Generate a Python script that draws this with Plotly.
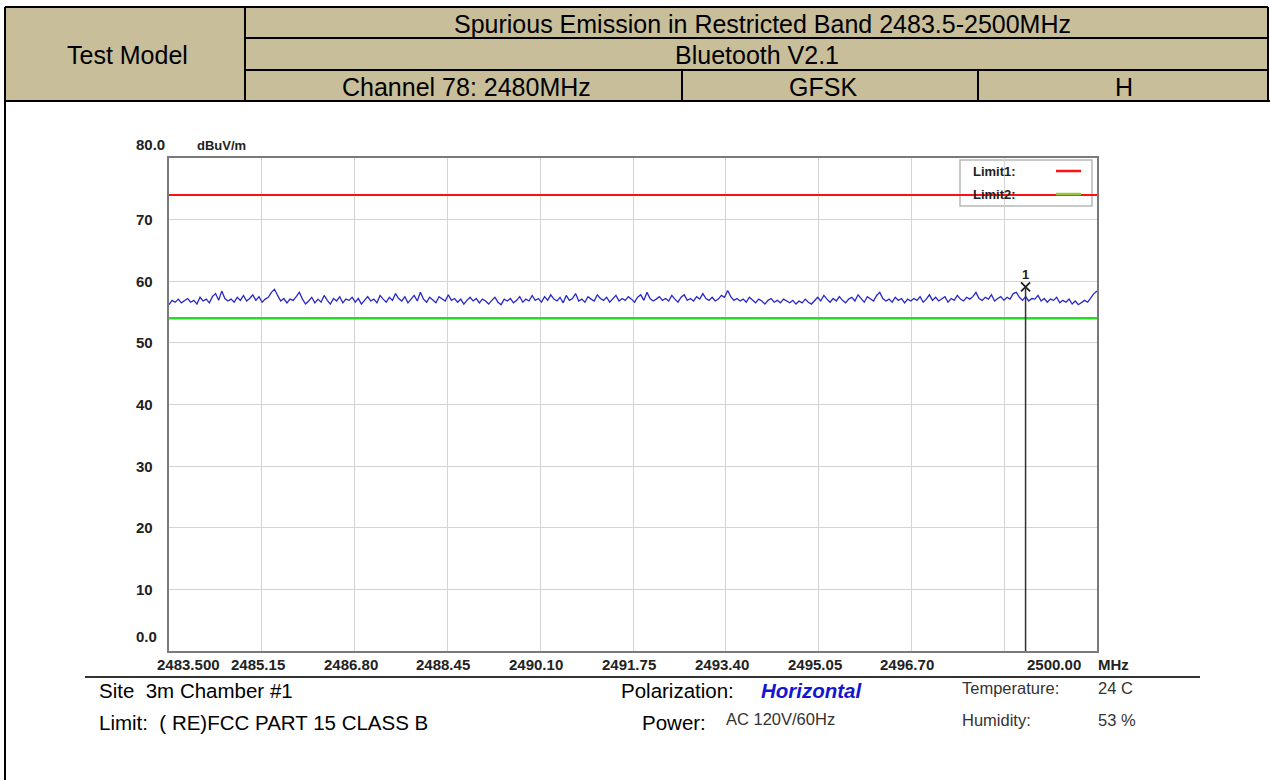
import plotly.graph_objects as go

# ---------------- data ----------------
freq_start = 2483.5
freq_stop = 2500.0
x_tick_vals = [2483.5, 2485.15, 2486.80, 2488.45, 2490.10, 2491.75, 2493.40,
               2495.05, 2496.70, 2498.35, 2500.00]
x_tick_labels = ["2483.500", "2485.15", "2486.80", "2488.45", "2490.10", "2491.75",
                 "2493.40", "2495.05", "2496.70", "", "2500.00"]
y_tick_vals = [0, 10, 20, 30, 40, 50, 60, 70, 80]
y_tick_labels = ["0.0", "10", "20", "30", "40", "50", "60", "70", "80.0"]

limit1_level = 74.0
limit2_level = 54.0

marker_freq = 2498.73
marker_level = 59.1
marker_label = "1"

level_dbuv = [
    56.2, 56.9, 56.6, 57.1, 56.5, 56.8, 57.2, 56.6, 56.9, 56.3, 57.4, 56.8, 57.1, 56.5, 57.5, 58.0, 56.9, 58.4, 57.2, 56.8,
    57.1, 56.6, 57.4, 56.9, 57.7, 56.8, 57.2, 57.8, 56.9, 57.5, 56.6, 57.1, 57.4, 58.2, 58.7, 57.7, 56.8, 57.2, 56.5, 57.1,
    56.9, 57.5, 58.2, 57.1, 56.3, 56.8, 57.4, 56.5, 57.1, 56.6, 57.7, 56.9, 56.3, 57.2, 56.8, 57.5, 56.5, 57.1, 56.9, 57.4,
    56.6, 57.2, 56.3, 56.9, 57.5, 56.8, 57.1, 56.5, 57.7, 57.1, 56.6, 57.4, 56.9, 58.0, 57.2, 56.8, 57.5, 56.5, 57.1, 57.7,
    56.8, 58.2, 57.1, 56.6, 57.4, 56.9, 56.5, 57.5, 57.1, 56.8, 57.8, 56.9, 57.2, 56.6, 57.1, 56.3, 56.9, 57.4, 56.8, 57.2,
    56.5, 57.1, 56.8, 56.3, 56.9, 57.4, 56.6, 56.2, 57.1, 56.8, 57.2, 56.5, 56.9, 57.5, 56.6, 57.1, 56.8, 57.7, 56.9, 57.2,
    56.6, 57.5, 56.9, 57.8, 57.1, 56.8, 57.4, 56.5, 57.7, 56.9, 57.2, 58.0, 56.8, 57.1, 56.6, 57.5, 57.1, 56.8, 57.8, 57.2,
    56.9, 57.4, 56.6, 57.1, 57.7, 56.8, 57.2, 56.9, 57.5, 57.1, 56.6, 57.4, 57.8, 56.9, 58.2, 57.2, 56.8, 57.1, 57.5, 56.9,
    57.2, 56.8, 57.7, 57.1, 56.6, 57.4, 57.8, 56.9, 57.2, 56.8, 57.5, 57.1, 58.0, 57.2, 56.9, 57.4, 56.8, 57.1, 57.7, 57.4,
    58.5, 57.5, 56.9, 57.2, 56.8, 57.1, 56.6, 57.4, 56.9, 56.5, 57.1, 56.8, 56.3, 56.9, 57.2, 56.6, 56.9, 56.5, 57.1, 56.8,
    56.5, 56.9, 56.3, 56.8, 56.5, 57.1, 56.6, 56.3, 56.9, 57.4, 56.8, 57.7, 57.1, 56.6, 57.2, 56.8, 57.5, 56.9, 56.5, 57.1,
    57.4, 56.8, 57.8, 57.1, 56.6, 57.5, 57.1, 56.8, 57.7, 58.2, 57.2, 56.8, 57.1, 56.6, 57.4, 56.9, 57.2, 56.5, 57.1, 56.8,
    57.2, 56.9, 57.5, 56.6, 57.1, 57.8, 56.9, 57.4, 56.8, 57.1, 57.5, 56.6, 57.2, 56.9, 57.7, 57.1, 56.8, 57.4, 57.1, 57.5,
    58.2, 57.2, 56.9, 57.4, 57.1, 57.8, 56.8, 57.2, 57.5, 56.9, 57.4, 57.1, 58.0, 58.2, 57.4, 56.9, 57.5, 56.8, 57.2, 57.1,
    57.7, 56.8, 57.2, 56.6, 57.1, 56.9, 57.4, 56.5, 56.9, 56.6, 57.1, 56.3, 56.8, 56.2, 56.5, 56.9, 56.6, 57.4, 58.0, 58.4,
]
n_pts = len(level_dbuv)
freq_mhz = [freq_start + (freq_stop - freq_start) * i / (n_pts - 1) for i in range(n_pts)]

header_title = "Spurious Emission in Restricted Band 2483.5-2500MHz"
header_tech = "Bluetooth V2.1"
header_channel = "Channel 78: 2480MHz"
header_mod = "GFSK"
header_pol = "H"
header_left = "Test Model"

# ---------------- layout helpers ----------------
W, H = 1270, 780
def px(x):
    return x / W
def py(y):
    return 1 - y / H

FONT = "Liberation Sans, Arial, sans-serif"
TAN = "#C8BE9A"

fig = go.Figure()

fig.add_trace(go.Scatter(x=[freq_start, freq_stop], y=[limit2_level, limit2_level],
                         mode="lines", line=dict(color="#22DD22", width=2.5),
                         hoverinfo="skip", showlegend=False))
fig.add_trace(go.Scatter(x=freq_mhz, y=level_dbuv, mode="lines",
                         line=dict(color="#2828C8", width=1.3),
                         showlegend=False))
fig.add_trace(go.Scatter(x=[freq_start, freq_stop], y=[limit1_level, limit1_level],
                         mode="lines", line=dict(color="#FF1010", width=2),
                         hoverinfo="skip", showlegend=False))
fig.add_trace(go.Scatter(x=[marker_freq], y=[marker_level], mode="markers",
                         marker=dict(symbol="x-thin", size=9,
                                     line=dict(color="#202020", width=1.8)),
                         showlegend=False))

plot_left, plot_right, plot_top, plot_bottom = 169, 1097, 158, 651

fig.update_layout(
    width=W, height=H,
    margin=dict(l=0, r=0, t=0, b=0),
    paper_bgcolor="white",
    plot_bgcolor="white",
    showlegend=False,
    xaxis=dict(domain=[px(plot_left), px(plot_right)], range=[freq_start, freq_stop],
               tickvals=x_tick_vals, showticklabels=False, ticks="",
               showgrid=True, gridcolor="#D4D4D4", gridwidth=1.2,
               showline=True, linecolor="#7A7A7A", linewidth=2, mirror=True,
               zeroline=False, fixedrange=True),
    yaxis=dict(domain=[py(plot_bottom), py(plot_top)], range=[0, 80],
               tickvals=y_tick_vals, showticklabels=False, ticks="",
               showgrid=True, gridcolor="#D4D4D4", gridwidth=1.2,
               showline=True, linecolor="#7A7A7A", linewidth=2, mirror=True,
               zeroline=False, fixedrange=True),
)

shapes = []
annotations = []

# ----- header table -----
hdr_top, r1, r2, hdr_bot = 7, 38, 70, 101
hx0, hsplit, hx1 = 5, 245, 1268
c1, c2 = 682, 978
shapes.append(dict(type="rect", xref="paper", yref="paper",
                   x0=px(hx0), x1=px(hx1), y0=py(hdr_bot), y1=py(hdr_top),
                   fillcolor=TAN, line=dict(width=0), layer="below"))
def hline(y, x0, x1, lw=2, color="black"):
    shapes.append(dict(type="line", xref="paper", yref="paper",
                       x0=px(x0), x1=px(x1), y0=py(y), y1=py(y),
                       line=dict(color=color, width=lw)))
def vline(x, y0, y1, lw=2, color="black"):
    shapes.append(dict(type="line", xref="paper", yref="paper",
                       x0=px(x), x1=px(x), y0=py(y0), y1=py(y1),
                       line=dict(color=color, width=lw)))
hline(hdr_top, hx0, hx1)
hline(r1, hsplit, hx1)
hline(r2, hsplit, hx1)
hline(hdr_bot, hx0, W)
vline(hx0, hdr_top, H)
vline(hsplit, hdr_top, hdr_bot)
vline(hx1, hdr_top, hdr_bot)
vline(c1, r2, hdr_bot)
vline(c2, r2, hdr_bot)

def text(x, y, s, size, anchor="center", color="black", bold=False, family=FONT, yanchor="middle"):
    if bold:
        s = "<b>" + s + "</b>"
    annotations.append(dict(x=px(x), y=py(y), xref="paper", yref="paper", text=s,
                            showarrow=False, xanchor=anchor, yanchor=yanchor,
                            font=dict(family=family, size=size, color=color)))

HS = 25
text(762, (hdr_top + r1) / 2 + 1, header_title, HS)
text(757, (r1 + r2) / 2 + 1, header_tech, HS)
text(466, (r2 + hdr_bot) / 2 + 1, header_channel, HS)
text(823, (r2 + hdr_bot) / 2 + 1, header_mod, HS)
text(1124, (r2 + hdr_bot) / 2 + 1, header_pol, HS)
text(127, (hdr_top + hdr_bot) / 2 + 1, header_left, HS)

# ----- axis labels -----
TF = 15
for v, lab in zip(y_tick_vals, y_tick_labels):
    shift = 13 if v == 80 else (15 if v == 0 else 0)
    annotations.append(dict(x=px(134), y=v, xref="paper", yref="y", text="<b>" + lab + "</b>",
                            showarrow=False, xanchor="left", yanchor="middle", yshift=shift,
                            font=dict(family=FONT, size=TF, color="#222")))
text(195, 145, "dBuV/m", 13, anchor="left", bold=True, color="#222")

for i, (v, lab) in enumerate(zip(x_tick_vals, x_tick_labels)):
    if not lab:
        continue
    if i == 0:
        anchor, shift = "left", -14
    elif i == len(x_tick_vals) - 1:
        anchor, shift = "right", -14
    else:
        anchor, shift = "center", -4
    annotations.append(dict(x=v, y=py(664), xref="x", yref="paper", text="<b>" + lab + "</b>",
                            showarrow=False, xanchor=anchor, yanchor="middle", xshift=shift,
                            font=dict(family=FONT, size=TF, color="#222")))
text(1096, 664, "MHz", TF, anchor="left", bold=True, color="#222")

# ----- marker -----
shapes.append(dict(type="line", xref="x", yref="y", x0=marker_freq, x1=marker_freq,
                   y0=0, y1=marker_level, line=dict(color="#303030", width=1.5)))
annotations.append(dict(x=marker_freq, y=marker_level, xref="x", yref="y", text="<b>" + marker_label + "</b>",
                        showarrow=False, yshift=12, font=dict(family=FONT, size=13, color="#222")))

# ----- legend box -----
dx = lambda x: (x - plot_left) / (plot_right - plot_left)
dy = lambda y: (plot_bottom - y) / (plot_bottom - plot_top)
shapes.append(dict(type="rect", xref="x domain", yref="y domain",
                   x0=dx(960), x1=dx(1092), y0=dy(206), y1=dy(160),
                   fillcolor="white", line=dict(color="#B8B8B8", width=1.5), layer="below"))
text(971, 171, "Limit1:", 13, anchor="left", bold=True, color="#222")
text(971, 194, "Limit2:", 13, anchor="left", bold=True, color="#222")
hline(171, 1056, 1081, lw=2.5, color="#FF1010")
hline(194, 1056, 1081, lw=2.5, color="#9CC43C")

# ----- bottom info -----
hline(677, 85, 1200, lw=2, color="#333")
BF = 20.5
text(97, 690, "Site  3m Chamber #1", BF, anchor="left")
text(97, 722, "Limit:  ( RE)FCC PART 15 CLASS B", BF, anchor="left")
text(619, 690, "Polarization:", BF, anchor="left")
text(759, 690, "<b><i>Horizontal</i></b>", BF, anchor="left", color="#1515D0")
text(640, 722, "Power:", BF, anchor="left")
text(724, 719, "AC 120V/60Hz", 16.5, anchor="left", color="#333")
text(960, 688, "Temperature:", 16.5, anchor="left", color="#333")
text(1096, 688, "24 C", 16.5, anchor="left", color="#333")
text(960, 720, "Humidity:", 16.5, anchor="left", color="#333")
text(1096, 720, "53 %", 16.5, anchor="left", color="#333")

fig.update_layout(shapes=shapes, annotations=annotations)
fig.write_html("out.html", config={"displayModeBar": False},
               post_script="document.body.style.margin='0px';")
